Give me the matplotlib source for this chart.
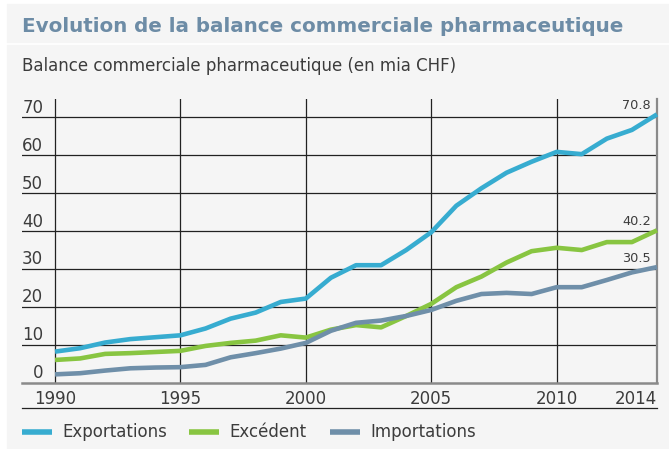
import matplotlib

matplotlib.use("Agg")

import matplotlib.pyplot as plt
from matplotlib.lines import Line2D
from matplotlib.patches import Rectangle

# Data (mia CHF)
years = list(range(1990, 2015))
exportations = [8.2, 9.1, 10.6, 11.5, 12.0, 12.5, 14.3, 16.9, 18.5, 21.3, 22.2, 27.7,
                31.0, 31.0, 35.0, 39.7, 46.7, 51.3, 55.4, 58.3, 60.9, 60.3, 64.4, 66.7, 70.8]
excedent = [6.0, 6.4, 7.6, 7.8, 8.1, 8.4, 9.7, 10.5, 11.1, 12.5, 11.9, 14.0,
            15.2, 14.6, 17.6, 20.8, 25.2, 28.0, 31.7, 34.7, 35.6, 35.0, 37.1, 37.1, 40.2]
importations = [2.2, 2.5, 3.2, 3.8, 4.0, 4.1, 4.7, 6.7, 7.8, 9.0, 10.5, 13.7,
                15.8, 16.4, 17.6, 19.2, 21.6, 23.4, 23.7, 23.4, 25.2, 25.2, 27.1, 29.1, 30.5]

y_ticks = [0, 10, 20, 30, 40, 50, 60, 70]
x_ticks = [1990, 1995, 2000, 2005, 2010, 2014]
x_grid = [1990, 1995, 2000, 2005, 2010]

series_names = ["Exportations", "Excédent", "Importations"]
series_colors = ["#37acd0", "#88c541", "#6f8fa9"]

W, H = 669, 449
plt.rcParams["font.family"] = ["DejaVu Sans"]
TXT = dict(color="#3c3c3c")

fig = plt.figure(figsize=(W / 100, H / 100), dpi=100)
fig.patch.set_facecolor("white")

# grey title band and panel (behind the axes)
fig.patches.append(Rectangle((7 / W, 1 - 41.5 / H), (W - 7) / W, 38 / H,
                             transform=fig.transFigure, color="#f5f5f5", zorder=-2))
fig.patches.append(Rectangle((7 / W, 0), (W - 7) / W, 1 - 45 / H,
                             transform=fig.transFigure, color="#f5f5f5", zorder=-2))

fig.text(22 / W, 1 - 32 / H, "Evolution de la balance commerciale pharmaceutique",
         fontsize=14.3, fontweight="bold", color="#6d8ca6", va="baseline")
fig.text(22 / W, 1 - 71 / H, "Balance commerciale pharmaceutique (en mia CHF)",
         fontsize=12, va="baseline", **TXT)

# axes placed in pixel terms
px_year = 25.07
x_left = 1990 - 33 / px_year
ax = fig.add_axes([22 / W, 1 - 382.7 / H, 635 / W, (382.7 - 99) / H])
ax.set_facecolor("none")
ax.set_xlim(x_left, 2014)
ax.set_ylim(0, (382.7 - 99) / 3.79)
for s in ax.spines.values():
    s.set_visible(False)
ax.set_xticks([])
ax.set_yticks([])

for v in y_ticks[1:]:
    ax.axhline(v, color="#222222", lw=0.9, zorder=1)
for yr in x_grid:
    ax.axvline(yr, color="#222222", lw=0.9, zorder=1)
ax.axhline(0, color="#8a8a8a", lw=1.8, zorder=2, clip_on=False)
ax.axvline(2014, color="#8a8a8a", lw=1.6, zorder=2, clip_on=False)

for v in y_ticks:
    ax.text(1989.53, v + 0.15, str(v), ha="right", va="bottom", fontsize=12, **TXT)
for yr in x_ticks:
    ax.text(yr, -4.3, str(yr), ha="right" if yr == 2014 else "center", va="center",
            fontsize=12, clip_on=False, **TXT)

for vals, col, z in zip([exportations, excedent, importations], series_colors, [5, 3, 4]):
    ax.plot(years, vals, color=col, lw=3.3, solid_joinstyle="round",
            solid_capstyle="butt", zorder=z, clip_on=False)
    ax.text(2013.76, vals[-1] + 0.6, f"{vals[-1]:.1f}", ha="right", va="bottom",
            fontsize=9.3, **TXT)

# divider and legend
fig.add_artist(Line2D([22 / W, 657 / W], [1 - 408 / H] * 2, color="#222222", lw=0.9))
leg_x = [22, 189, 330]
for x0, name, col in zip(leg_x, series_names, series_colors):
    fig.add_artist(Line2D([x0 / W, (x0 + 30) / W], [1 - 432 / H] * 2, color=col,
                          lw=4, solid_capstyle="butt"))
    fig.text((x0 + 40) / W, 1 - 432 / H, name, fontsize=12, va="center", **TXT)

fig.savefig("out.png", dpi=100)
